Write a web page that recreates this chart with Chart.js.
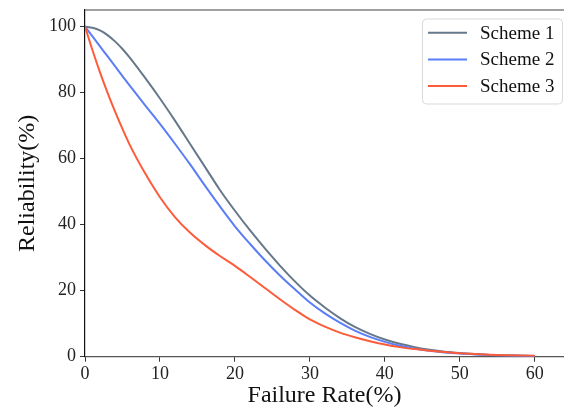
<!DOCTYPE html>
<html>
<head>
<meta charset="utf-8">
<script src="https://cdn.jsdelivr.net/npm/chart.js@4"></script>
<style>
  html, body { margin: 0; padding: 0; background: #fff; }
  #wrap { width: 564px; height: 416px; }
</style>
</head>
<body>
<div id="wrap"><canvas id="reliabilityChart"></canvas></div>
<script>
const failureRate = [0, 1, 2, 3, 4, 5, 6, 8, 10, 12, 14, 16, 18, 20, 22, 24, 26, 28, 30,
  32, 34, 36, 38, 40, 42, 44, 46, 48, 50, 52, 54, 56, 58, 60];
const scheme1 = [100, 99.6, 98.8, 97.4, 95.5, 93.2, 90.5, 84.5, 78.2, 71.5, 64.5, 57.5, 50.5, 44.2, 38.3, 32.8, 27.6, 22.8, 18.5,
  14.9, 11.7, 9.0, 6.9, 5.2, 3.9, 2.9, 2.1, 1.5, 1.1, 0.8, 0.55, 0.4, 0.3, 0.2];
const scheme2 = [100, 97, 94, 91, 88, 85, 82, 76.2, 70.5, 64.5, 58.3, 51.8, 45.5, 39.5, 34.2, 29.2, 24.6, 20.4, 16.4,
  13.1, 10.3, 7.9, 6.0, 4.5, 3.3, 2.4, 1.8, 1.3, 0.95, 0.7, 0.5, 0.35, 0.25, 0.18];
const scheme3 = [100, 92.8, 86.1, 80.0, 74.3, 69.0, 64.0, 55.6, 48.3, 42.3, 37.6, 33.8, 30.5, 27.5, 24.2, 20.8, 17.4, 14.2, 11.3,
  9.1, 7.3, 5.9, 4.7, 3.7, 2.9, 2.3, 1.8, 1.4, 1.05, 0.8, 0.6, 0.45, 0.35, 0.28];
const seriesNames = ['Scheme 1', 'Scheme 2', 'Scheme 3'];
const seriesColors = ['#66788a', '#5b7ef7', '#fd5c3a'];
const xTicks = [0, 10, 20, 30, 40, 50, 60];
const yTicks = [0, 20, 40, 60, 80, 100];

const serif = "'Liberation Serif', 'DejaVu Serif', serif";

function toPoints(ys) {
  return failureRate.map((x, i) => ({ x: x, y: ys[i] }));
}

const allSeries = [scheme1, scheme2, scheme3];
const datasets = allSeries.map((ys, i) => ({
  label: seriesNames[i],
  data: toPoints(ys),
  borderColor: seriesColors[i],
  backgroundColor: seriesColors[i],
  borderWidth: 2,
  pointRadius: 0,
  fill: false,
  cubicInterpolationMode: 'monotone',
  order: 3 - i // red drawn on top
}));

// top spine + boxed legend like the original figure
const frameAndLegend = {
  id: 'frameAndLegend',
  afterDraw(chart) {
    const ctx = chart.ctx;
    const area = chart.chartArea;
    ctx.save();

    ctx.strokeStyle = '#808080';
    ctx.lineWidth = 1.5;
    ctx.beginPath();
    ctx.moveTo(area.left, area.top);
    ctx.lineTo(area.right, area.top);
    ctx.stroke();

    const w = 140, h = 85;
    const x0 = area.right - w - 1.5;
    const y0 = area.top + 9;
    ctx.fillStyle = 'rgba(255,255,255,0.8)';
    ctx.strokeStyle = '#d9d9d9';
    ctx.lineWidth = 1;
    ctx.beginPath();
    ctx.roundRect(x0, y0, w, h, 4);
    ctx.fill();
    ctx.stroke();

    ctx.font = '19px ' + serif;
    ctx.textBaseline = 'middle';
    ctx.textAlign = 'left';
    chart.data.datasets.forEach((ds, i) => {
      const y = y0 + 13.7 + i * 26.7;
      ctx.strokeStyle = ds.borderColor;
      ctx.lineWidth = 2;
      ctx.beginPath();
      ctx.moveTo(x0 + 5.5, y);
      ctx.lineTo(x0 + 44.5, y);
      ctx.stroke();
      ctx.fillStyle = '#111';
      ctx.fillText(ds.label, x0 + 57.5, y + 1);
    });
    ctx.restore();
  }
};

const ctx = document.getElementById('reliabilityChart').getContext('2d');

const reliabilityChart = new Chart(ctx, {
  type: 'line',
  data: { datasets: datasets },
  options: {
    responsive: true,
    maintainAspectRatio: false,
    animation: false,
    devicePixelRatio: 1,
    layout: { padding: { top: 10, right: 0, left: 0, bottom: 0 } },
    plugins: {
      legend: { display: false },
      tooltip: { enabled: false }
    },
    scales: {
      x: {
        type: 'linear',
        min: 0,
        max: 63.9,
        afterBuildTicks: (scale) => { scale.ticks = xTicks.map(v => ({ value: v })); },
        afterFit: (scale) => {
          scale.height = 59.3;
          scale.paddingLeft = 0;
          scale.paddingRight = 0;
        },
        ticks: {
          font: { family: serif, size: 18 },
          color: '#222',
          padding: 2,
          maxRotation: 0,
          autoSkip: false
        },
        grid: { drawOnChartArea: false, drawTicks: true, tickLength: 5, color: '#333' },
        border: { color: '#555', width: 1.2 },
        title: {
          display: true,
          text: 'Failure Rate(%)',
          font: { family: serif, size: 24 },
          color: '#111',
          padding: { top: 0, bottom: 6 }
        }
      },
      y: {
        type: 'linear',
        min: 0,
        max: 105,
        afterBuildTicks: (scale) => { scale.ticks = yTicks.map(v => ({ value: v })); },
        afterFit: (scale) => {
          scale.width = 85;
          scale.paddingTop = 0;
          scale.paddingBottom = 0;
        },
        ticks: {
          font: { family: serif, size: 18 },
          color: '#222',
          padding: 4
        },
        grid: { drawOnChartArea: false, drawTicks: true, tickLength: 5, color: '#333' },
        border: { color: '#111', width: 1.2 },
        title: {
          display: true,
          text: 'Reliability(%)',
          font: { family: serif, size: 24 },
          color: '#111',
          padding: { top: 13, bottom: 0 }
        }
      }
    }
  },
  plugins: [frameAndLegend]
});
</script>
</body>
</html>
